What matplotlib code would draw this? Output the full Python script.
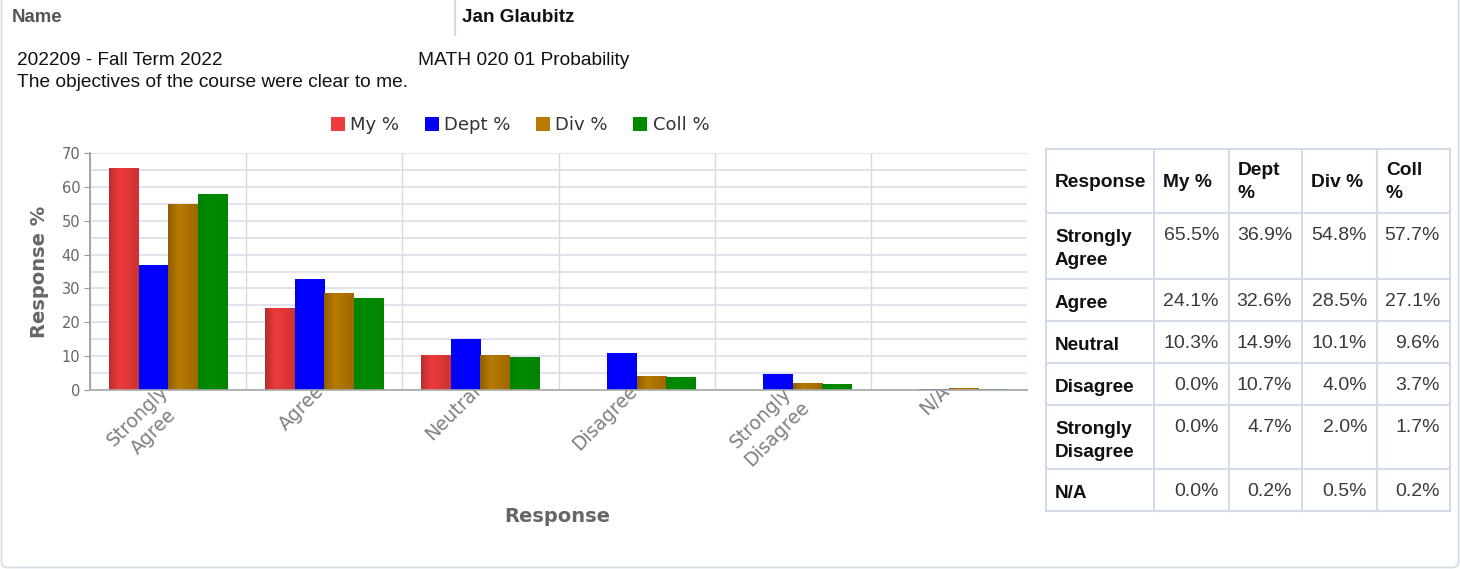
import matplotlib.pyplot as plt
import numpy as np
from matplotlib.colors import to_rgb
from matplotlib.patches import Patch, FancyBboxPatch

categories = ['Strongly\nAgree', 'Agree', 'Neutral', 'Disagree', 'Strongly\nDisagree', 'N/A']
series_names = ['My %', 'Dept %', 'Div %', 'Coll %']
my_pct = [65.5, 24.1, 10.3, 0.0, 0.0, 0.0]
dept_pct = [36.9, 32.6, 14.9, 10.7, 4.7, 0.2]
div_pct = [54.8, 28.5, 10.1, 4.0, 2.0, 0.5]
coll_pct = [57.7, 27.1, 9.6, 3.7, 1.7, 0.2]
table_headers = ['Response', 'My\u00a0%', 'Dept\n%', 'Div\u00a0%', 'Coll\n%']

name_label = 'Name'
instructor = 'Jan Glaubitz'
term = '202209 - Fall Term 2022'
course = 'MATH 020 01 Probability'
question = 'The objectives of the course were clear to me.'

colors = ['#ee3b3b', '#0000ff', '#b87a00', '#008a00']
shading = [1.0, 0.15, 1.0, 0.3]   # how strong the cylinder shading is per series
series = [my_pct, dept_pct, div_pct, coll_pct]

W, H = 1460, 569
fig = plt.figure(figsize=(W / 100, H / 100), dpi=100)
fig.patch.set_facecolor('white')


def px_box(x0, y0, x1, y1):
    # pixel box (top-left origin) -> figure fraction rect
    return [x0 / W, 1 - y1 / H, (x1 - x0) / W, (y1 - y0) / H]


# ---------------- bar chart ----------------
ax = fig.add_axes(px_box(90, 153, 1027, 390))
ax.set_facecolor('white')
x = np.arange(len(categories))
bw = 0.189
t = np.linspace(0, 1, 40)
for i, (vals, c, k) in enumerate(zip(series, colors, shading)):
    bars = ax.bar(x + (i - 1.5) * bw, vals, width=bw, color=c, zorder=2, linewidth=0)
    prof = 1 - k * (1 - np.interp(t, [0, 0.35, 1], [0.78, 1.0, 0.86]))
    rgb = np.clip(np.array(to_rgb(c))[None, :] * prof[:, None], 0, 1)
    for r in bars:
        if r.get_height() <= 0:
            continue
        ax.imshow(rgb[None, :, :], extent=(r.get_x(), r.get_x() + r.get_width(), 0, r.get_height()),
                  aspect='auto', zorder=2.5, interpolation='bilinear')

ax.set_xlim(-0.5, len(categories) - 0.5)
ax.set_ylim(0, 70)
ax.set_yticks(np.arange(0, 71, 10))
ax.set_yticks(np.arange(5, 70, 10), minor=True)
ax.grid(axis='y', which='both', color='#e0e0ec', linewidth=1.3, zorder=0)
for b in np.arange(-0.5, len(categories), 1.0):
    ax.axvline(b, color='#d8d8e4', linewidth=1.0, zorder=0)
ax.set_xticks([])
for s in ['top', 'right']:
    ax.spines[s].set_visible(False)
ax.spines['left'].set_color('#9a9a9a')
ax.spines['bottom'].set_color('#a8a8a8')
ax.spines['left'].set_linewidth(1.2)
ax.spines['bottom'].set_linewidth(1.2)
ax.tick_params(axis='y', which='major', length=4, color='#9a9a9a', labelsize=10.5,
               labelcolor='#666666', pad=3)
ax.tick_params(axis='y', which='minor', length=0)

ax.set_ylabel('Response %', fontsize=14, fontweight='bold', color='#666666', labelpad=9)

# rotated category labels sit partly behind the plot area, like the original
for xi, cat in zip(x, categories):
    fig.text(xi - 0.06, 0.035, cat, transform=ax.get_xaxis_transform(), rotation=45,
             rotation_mode='anchor', ha='right', va='top', ma='center',
             fontsize=13.5, color='#808080', zorder=-1, linespacing=1.25)

fig.text(557 / W, 1 - 517 / H, 'Response', ha='center', va='center', fontsize=14,
         fontweight='bold', color='#666666')

handles = [Patch(facecolor=c, edgecolor='none') for c in colors]
fig.legend(handles, series_names, loc='center', bbox_to_anchor=(520 / W, 1 - 125 / H), ncol=4,
           frameon=False, fontsize=13, handlelength=0.78, handleheight=0.78, handletextpad=0.3,
           columnspacing=1.4, labelcolor='#333333')

# ---------------- header + table overlay ----------------
ov = fig.add_axes([0, 0, 1, 1], zorder=1)
ov.set_xlim(0, W)
ov.set_ylim(H, 0)
ov.axis('off')
ov.patch.set_alpha(0)

edge = '#d3dce6'
ov.add_patch(FancyBboxPatch((1.5, -20), W - 3, H - 1.5 + 20, boxstyle='round,pad=0,rounding_size=6',
                            facecolor='none', edgecolor=edge, linewidth=1.2))
ov.plot([455, 455], [0, 35], color=edge, linewidth=1.6)

hfont = 'Liberation Sans'
ov.text(12, 17, name_label, fontsize=13.4, fontweight='bold', color='#555555', va='center', family=hfont)
ov.text(462, 17, instructor, fontsize=13.6, fontweight='bold', color='#111111', va='center', family=hfont)
ov.text(17, 60, term, fontsize=13.7, color='#111111', va='center', family=hfont)
ov.text(418, 60, course, fontsize=13.8, color='#111111', va='center', family=hfont)
ov.text(17, 82, question, fontsize=13.8, color='#111111', va='center', family=hfont)

col_x = [1046, 1154, 1229, 1302, 1377, 1450]
row_y = [149, 213, 279, 321, 363, 405, 469, 511]
for cx in col_x:
    ov.plot([cx, cx], [row_y[0], row_y[-1]], color=edge, linewidth=1.5)
for ry in row_y:
    ov.plot([col_x[0], col_x[-1]], [ry, ry], color=edge, linewidth=1.5)

# header row
for j, htxt in enumerate(table_headers):
    ov.text(col_x[j] + 9, (row_y[0] + row_y[1]) / 2 + 1, htxt, fontsize=13.8, fontweight='bold',
            color='#111111', va='center', ha='left', family=hfont, linespacing=1.45)

# body rows
for i, cat in enumerate(categories):
    top = row_y[i + 1]
    ov.text(col_x[0] + 9, top + 16, cat, fontsize=13.6, fontweight='bold', color='#111111',
            va='top', ha='left', family=hfont, linespacing=1.45)
    for j, vals in enumerate(series):
        ov.text(col_x[j + 2] - 10, top + 14, f'{vals[i]:.1f}%', fontsize=14, color='#3a3a3a',
                va='top', ha='right', family=hfont)

fig.savefig('out.png', dpi=100)
